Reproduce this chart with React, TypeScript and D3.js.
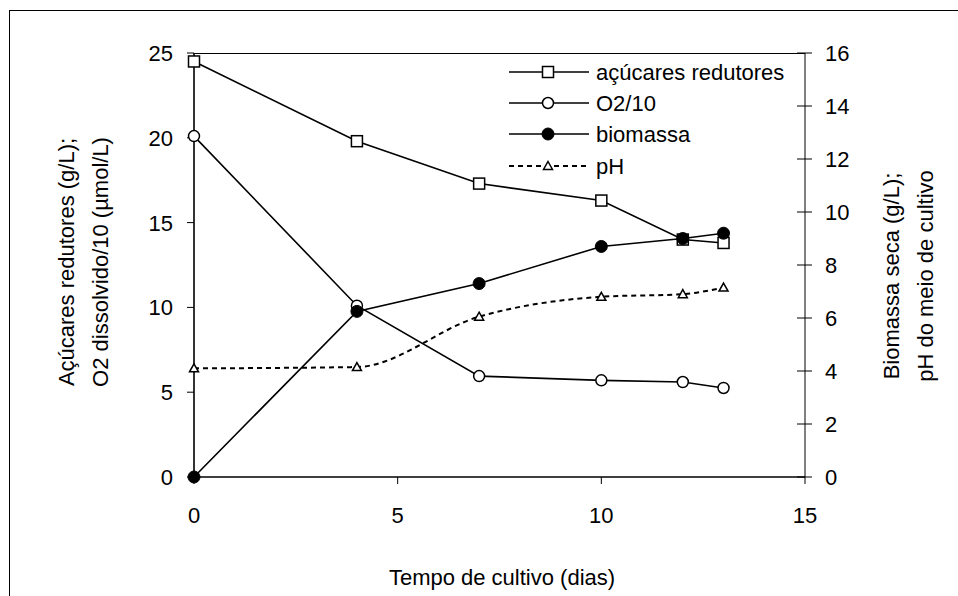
import React from "react";
import * as d3 from "d3";

const days = [0, 4, 7, 10, 12, 13];
const acucares = [24.5, 19.8, 17.3, 16.3, 14.0, 13.8];
const o2 = [20.1, 10.1, 5.95, 5.7, 5.6, 5.25];
const biomassa = [0, 6.25, 7.3, 8.7, 9.0, 9.2];
const ph = [4.1, 4.15, 6.05, 6.8, 6.9, 7.15];

const xTicks = [0, 5, 10, 15];
const leftTicks = [0, 5, 10, 15, 20, 25];
const rightTicks = [0, 2, 4, 6, 8, 10, 12, 14, 16];

const W = 958;
const H = 596;
const FONT = "'Liberation Sans', Arial, sans-serif";
const FS = 22;

const x = d3.scaleLinear().domain([0, 15]).range([194, 805]);
const yL = d3.scaleLinear().domain([0, 25]).range([477, 53]);
const yR = d3.scaleLinear().domain([0, 16]).range([477, 53]);

const straight = (vals: number[], y: d3.ScaleLinear<number, number>) =>
  d3
    .line<number>()
    .x((_, i) => x(days[i]))
    .y((v) => y(v))(vals) || "";

const smooth = (vals: number[], y: d3.ScaleLinear<number, number>) =>
  d3
    .line<number>()
    .curve(d3.curveMonotoneX)
    .x((_, i) => x(days[i]))
    .y((v) => y(v))(vals) || "";

const Square = ({ cx, cy }: { cx: number; cy: number }) => (
  <rect x={cx - 5.5} y={cy - 5.5} width={11} height={11} fill="#fff" stroke="#000" strokeWidth={1.5} />
);
const OpenCircle = ({ cx, cy }: { cx: number; cy: number }) => (
  <circle cx={cx} cy={cy} r={5.5} fill="#fff" stroke="#000" strokeWidth={1.5} />
);
const Dot = ({ cx, cy }: { cx: number; cy: number }) => (
  <circle cx={cx} cy={cy} r={6} fill="#000" stroke="#000" strokeWidth={1} />
);
const Tri = ({ cx, cy }: { cx: number; cy: number }) => (
  <path d={`M${cx},${cy - 4.5}L${cx + 4.5},${cy + 3.5}L${cx - 4.5},${cy + 3.5}Z`} fill="#fff" stroke="#000" strokeWidth={1.5} />
);

const legend = [
  { label: "açúcares redutores", dash: undefined, M: Square },
  { label: "O2/10", dash: undefined, M: OpenCircle },
  { label: "biomassa", dash: undefined, M: Dot },
  { label: "pH", dash: "5,4", M: Tri },
];
const legendY = [72, 103, 134, 166];

const App = () => {
  return (
    <svg width={W} height={H} style={{ position: "absolute", left: 0, top: 0, background: "#fff" }} fontFamily={FONT}>
      <rect x={9.5} y={10.5} width={W + 20} height={H + 20} fill="#fff" stroke="#000" strokeWidth={1} />

      {/* plot frame */}
      <line x1={194} x2={805} y1={53.5} y2={53.5} stroke="#000" strokeWidth={1} />
      <line x1={194} x2={805} y1={477} y2={477} stroke="#000" strokeWidth={1.3} />
      <line x1={194} x2={194} y1={53} y2={477} stroke="#000" strokeWidth={1.6} />
      <line x1={805} x2={805} y1={53} y2={477} stroke="#000" strokeWidth={1} />

      {/* left axis */}
      {leftTicks.map((t) => (
        <g key={"l" + t}>
          <line x1={187} x2={194} y1={yL(t)} y2={yL(t)} stroke="#000" strokeWidth={1} />
          <text x={173} y={yL(t)} dy="0.36em" textAnchor="end" fontSize={FS}>
            {t}
          </text>
        </g>
      ))}
      {/* right axis */}
      {rightTicks.map((t) => (
        <g key={"r" + t}>
          <line x1={797} x2={812} y1={yR(t)} y2={yR(t)} stroke="#000" strokeWidth={1} />
          <text x={825} y={yR(t)} dy="0.36em" textAnchor="start" fontSize={FS}>
            {t}
          </text>
        </g>
      ))}
      {/* bottom axis */}
      {xTicks.map((t) => (
        <g key={"x" + t}>
          <line x1={x(t)} x2={x(t)} y1={477} y2={484} stroke="#000" strokeWidth={1} />
          <text x={x(t)} y={523} textAnchor="middle" fontSize={FS}>
            {t}
          </text>
        </g>
      ))}

      <text x={502} y={585} textAnchor="middle" fontSize={FS}>
        Tempo de cultivo (dias)
      </text>
      <text transform="translate(74,262) rotate(-90)" textAnchor="middle" fontSize={FS}>
        Açúcares redutores (g/L);
      </text>
      <text transform="translate(108,262) rotate(-90)" textAnchor="middle" fontSize={FS}>
        O2 dissolvido/10 (µmol/L)
      </text>
      <text transform="translate(899,276) rotate(-90)" textAnchor="middle" fontSize={FS}>
        Biomassa seca (g/L);
      </text>
      <text transform="translate(933,276) rotate(-90)" textAnchor="middle" fontSize={FS}>
        pH do meio de cultivo
      </text>

      {/* series */}
      <path d={straight(acucares, yL)} fill="none" stroke="#000" strokeWidth={1.6} />
      {acucares.map((v, i) => (
        <Square key={"a" + i} cx={x(days[i])} cy={yL(v)} />
      ))}
      <path d={straight(o2, yL)} fill="none" stroke="#000" strokeWidth={1.6} />
      {o2.map((v, i) => (
        <OpenCircle key={"o" + i} cx={x(days[i])} cy={yL(v)} />
      ))}
      <path d={straight(biomassa, yR)} fill="none" stroke="#000" strokeWidth={1.6} />
      {biomassa.map((v, i) => (
        <Dot key={"b" + i} cx={x(days[i])} cy={yR(v)} />
      ))}
      <path d={smooth(ph, yR)} fill="none" stroke="#000" strokeWidth={2} strokeDasharray="5,4" />
      {ph.map((v, i) => (
        <Tri key={"p" + i} cx={x(days[i])} cy={yR(v)} />
      ))}

      {/* legend */}
      {legend.map((l, i) => (
        <g key={l.label}>
          <line x1={509} x2={589} y1={legendY[i]} y2={legendY[i]} stroke="#000" strokeWidth={l.dash ? 2 : 1.6} strokeDasharray={l.dash} />
          <l.M cx={548} cy={legendY[i]} />
          <text x={596} y={legendY[i]} dy="0.36em" fontSize={FS}>
            {l.label}
          </text>
        </g>
      ))}
    </svg>
  );
};

export default App;
